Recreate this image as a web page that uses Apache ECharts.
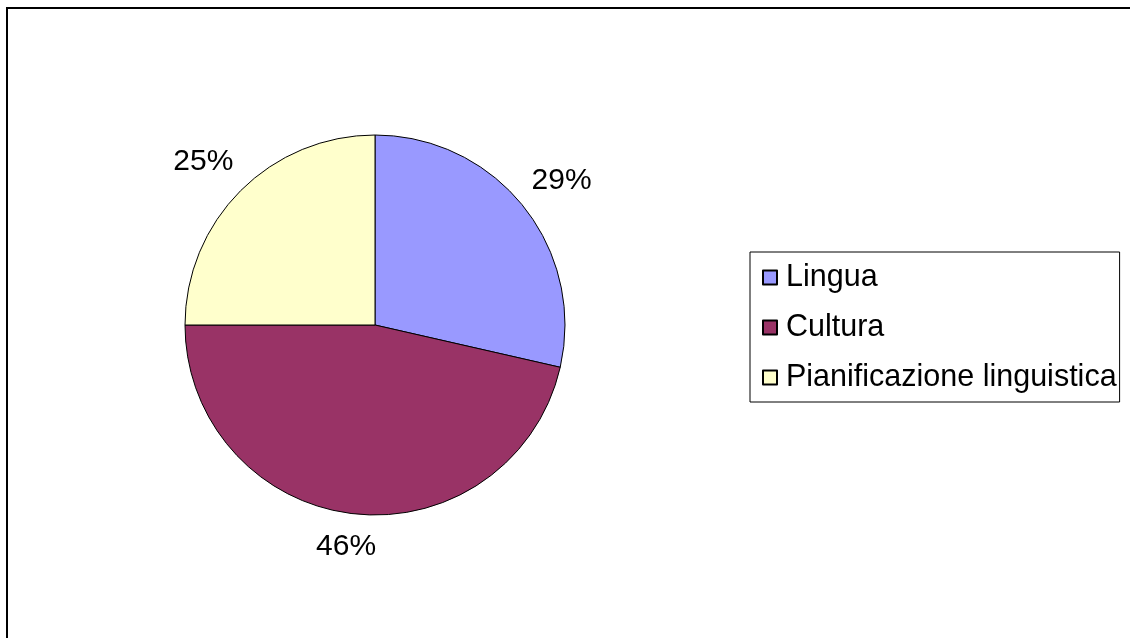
<!DOCTYPE html>
<html>
<head>
<meta charset="utf-8">
<script src="https://cdn.jsdelivr.net/npm/echarts@6/dist/echarts.min.js"></script>
<style>
  html, body { margin: 0; padding: 0; background: #fff; }
  #chart { width: 1130px; height: 638px; }
</style>
</head>
<body>
<div id="chart"></div>
<script>
// categories and values
const categories = ['Lingua', 'Cultura', 'Pianificazione linguistica'];
const values = [8, 13, 7];
const colors = ['#9999FF', '#993366', '#FFFFCC'];

const pieData = categories.map((name, i) => ({
    name: name,
    value: values[i],
    itemStyle: { color: colors[i] }
}));

const chart = echarts.init(document.getElementById('chart'));
const font = "'Liberation Sans', Arial, sans-serif";

// small nudges so labels sit like the original
const labelNudge = [[-1, 5], [-2, -17], [-2, 6]];

const option = {
    backgroundColor: '#fff',
    animation: false,
    // frame round the chart area (only top and left visible)
    graphic: [{
        type: 'rect',
        shape: { x: 7, y: 8, width: 1300, height: 800 },
        style: { fill: 'none', stroke: '#000', lineWidth: 2 },
        silent: true
    }],
    legend: {
        data: categories,
        orient: 'vertical',
        left: 750,
        top: 252,
        padding: [10, 3, 9, 12],
        itemGap: 19,
        itemWidth: 14,
        itemHeight: 14,
        borderColor: '#000',
        borderWidth: 1,
        icon: 'rect',
        selectedMode: false,
        textStyle: {
            fontFamily: font,
            fontSize: 30.5,
            lineHeight: 30,
            color: '#000',
            padding: [0, 0, 0, 4]
        }
    },
    series: [
        {
            name: 'main',
            type: 'pie',
            center: [375, 325],
            radius: [0, 190],
            startAngle: 90,
            clockwise: true,
            silent: true,
            data: pieData,
            itemStyle: { borderColor: '#000', borderWidth: 1 },
            label: { show: false },
            labelLine: { show: false },
            emphasis: { disabled: true }
        },
        {
            // carries the percentage labels only
            name: 'labels',
            type: 'pie',
            center: [375, 325],
            radius: [228, 246],
            startAngle: 90,
            clockwise: true,
            silent: true,
            data: pieData.map(d => ({ name: d.name, value: d.value })),
            itemStyle: { color: 'rgba(0,0,0,0)', borderWidth: 0 },
            label: {
                show: true,
                position: 'inside',
                formatter: p => Math.round(p.percent) + '%',
                fontFamily: font,
                fontSize: 30,
                color: '#000'
            },
            labelLayout: p => ({ dx: labelNudge[p.dataIndex][0], dy: labelNudge[p.dataIndex][1] }),
            labelLine: { show: false },
            emphasis: { disabled: true }
        }
    ]
};

chart.setOption(option);
</script>
</body>
</html>
